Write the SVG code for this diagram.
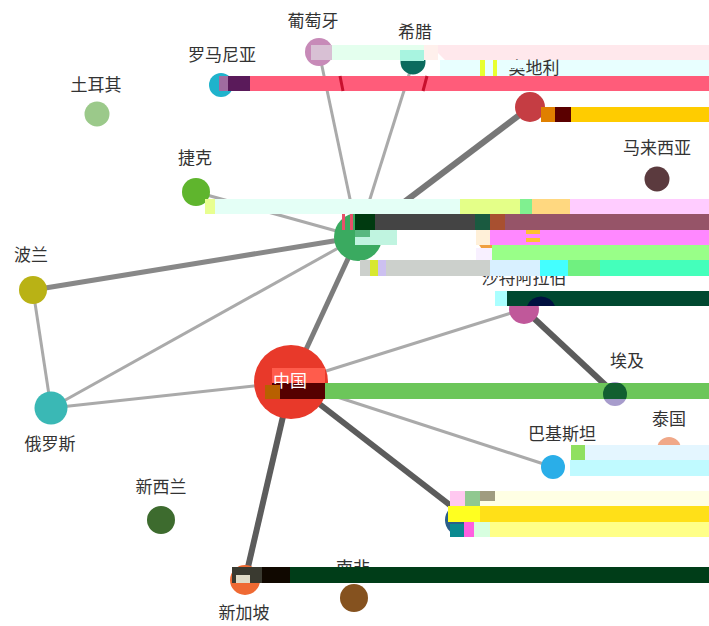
<svg xmlns="http://www.w3.org/2000/svg" width="709" height="626" viewBox="0 0 709 626">
<style>
text{font-family:"Noto Sans CJK SC","Liberation Sans",sans-serif;font-size:17px;fill:#333;text-anchor:middle}
.l{stroke:#aaa;stroke-width:3;fill:none}
.m{stroke:#888;stroke-width:5;fill:none}
.d{stroke:#5c5c5c;stroke-width:6;fill:none}
</style>
<defs><clipPath id="egyptBand"><rect x="600" y="383" width="30" height="16"/></clipPath></defs>
<rect width="709" height="626" fill="#fff"/>
<g id="connectors">
<path class="l" d="M358 237L319 52"/>
<path class="l" d="M358 237L413 62"/>
<path class="l" d="M358 237L196 192"/>
<path class="l" d="M358 237L51 408"/>
<path class="m" d="M358 237L33 290"/>
<path class="d" d="M358 237L530 107" style="stroke:#777"/>
<path class="m" d="M358 237L291 382" style="stroke:#7c7c7c"/>
<path class="l" d="M33 290L51 408"/>
<path class="l" d="M51 408L291 382"/>
<path class="l" d="M291 382L524 309"/>
<path class="l" d="M291 382L553 467"/>
<path class="d" d="M524 309L615 394"/>
<path class="d" d="M291 382L459 512"/>
<path class="d" d="M291 382L245 580"/>
</g>
<g id="node-turkey"><circle cx="97" cy="114" r="12.500" fill="#9bc98a"/><text x="96" y="91">土耳其</text></g>
<g id="node-romania"><circle cx="221" cy="85" r="12" fill="#1fb3cc"/><text x="222" y="61">罗马尼亚</text></g>
<g id="node-portugal"><circle cx="319" cy="52" r="14" fill="#c78ab8"/><text x="313" y="27">葡萄牙</text></g>
<g id="node-greece"><circle cx="413" cy="62" r="12.500" fill="#0b6b5e"/><text x="415" y="38">希腊</text></g>
<g id="node-austria"><circle cx="530" cy="107" r="15" fill="#c53d43"/></g>
<g id="node-malaysia"><circle cx="657" cy="179" r="12.500" fill="#5b3a3e"/><text x="657" y="154">马来西亚</text></g>
<g id="node-czech"><circle cx="196" cy="192" r="14" fill="#5fb52d"/><text x="195" y="164">捷克</text></g>
<g id="node-center"><circle cx="358" cy="237" r="24" fill="#3aaa60"/></g>
<g id="node-hidden"><circle cx="487" cy="241" r="9" fill="#f0a040"/></g>
<g id="node-poland"><circle cx="33" cy="290" r="14" fill="#b9b215"/><text x="31" y="261">波兰</text></g>
<g id="node-saudi"><circle cx="524" cy="309" r="15" fill="#c0589a"/><text x="524" y="284">沙特阿拉伯</text></g>
<g id="node-china"><circle cx="291" cy="382" r="37" fill="#e8392a"/></g>
<g id="node-russia"><circle cx="51" cy="408" r="16.500" fill="#3ab8b5"/><text x="50" y="450">俄罗斯</text></g>
<g id="node-egypt"><circle cx="615" cy="394" r="12" fill="#a79ccc"/><text x="627" y="367">埃及</text></g>
<g id="node-thailand"><circle cx="669" cy="449" r="12" fill="#f0a888"/><text x="669" y="425">泰国</text></g>
<g id="node-pakistan"><circle cx="553" cy="467" r="12" fill="#2aaee8"/><text x="562" y="440">巴基斯坦</text></g>
<g id="node-hidden2"><circle cx="461" cy="520" r="16" fill="#2a5f8a"/></g>
<g id="node-newzealand"><circle cx="161" cy="520" r="14" fill="#3d6b2e"/><text x="161" y="493">新西兰</text></g>
<g id="node-singapore"><circle cx="245" cy="580" r="15" fill="#ef6a33"/><text x="244" y="619">新加坡</text></g>
<g id="node-southafrica"><circle cx="354" cy="598" r="14" fill="#85521f"/><text x="353" y="574">南非</text></g>
<g id="bands">
<rect x="332" y="45" width="98" height="15" fill="#e4ffee"/>
<rect x="311" y="45" width="21" height="15" fill="#d8c0d4"/>
<path d="M430 45H709V60H445Z" fill="#ffe8ec"/>
<rect x="400" y="50" width="24" height="11" fill="#a8f4e0"/>
<rect x="424" y="45" width="14" height="15" fill="#fff0ec"/>
<rect x="440" y="60" width="269" height="16" fill="#e8ffff"/>
<rect x="480" y="60" width="5" height="16" fill="#e8ff30"/>
<rect x="493" y="60" width="4" height="16" fill="#e8ff30"/>
<rect x="250" y="76" width="459" height="15" fill="#ff5c7a"/>
<rect x="219" y="76" width="31" height="15" fill="#5a1a5a"/>
<rect x="219" y="76" width="9" height="15" fill="#a06ca0"/>
<path d="M340 76L343 91M423 91L427 76" stroke="#c8102e" stroke-width="3" fill="none"/>
<rect x="541" y="107" width="168" height="15" fill="#ffcc00"/>
<rect x="541" y="107" width="14" height="15" fill="#e08000"/>
<rect x="555" y="107" width="16" height="15" fill="#5a0000"/>
<rect x="205" y="199" width="255" height="15" fill="#e4fff6"/>
<rect x="205" y="199" width="10" height="15" fill="#e8ff90"/>
<rect x="460" y="199" width="60" height="15" fill="#e4ff88"/>
<rect x="520" y="199" width="12" height="15" fill="#80f090"/>
<rect x="532" y="199" width="38" height="15" fill="#ffd880"/>
<rect x="570" y="199" width="139" height="15" fill="#ffccff"/>
<rect x="355" y="214" width="20" height="16" fill="#003a10"/>
<rect x="375" y="214" width="100" height="16" fill="#444"/>
<rect x="475" y="214" width="15" height="16" fill="#1a5a40"/>
<rect x="490" y="214" width="15" height="16" fill="#a85030"/>
<rect x="505" y="214" width="204" height="16" fill="#965468"/>
<rect x="342" y="214" width="3" height="16" fill="#e8506a"/>
<rect x="350" y="214" width="3" height="16" fill="#e8506a"/>
<rect x="355" y="230" width="42" height="15" fill="#c0f4e0"/>
<rect x="355" y="230" width="15" height="7" fill="#58b880"/>
<rect x="476" y="230" width="14" height="15" fill="#fff0d8"/>
<rect x="490" y="230" width="219" height="15" fill="#ff88ff"/>
<rect x="526" y="230" width="14" height="4" fill="#ffc030"/>
<rect x="526" y="238" width="14" height="4" fill="#ffc030"/>
<rect x="476" y="248" width="16" height="12" fill="#f8f0ff"/>
<rect x="492" y="245" width="217" height="15" fill="#99ff88"/>
<rect x="360" y="260" width="130" height="16" fill="#ccd0cc"/>
<rect x="370" y="260" width="8" height="16" fill="#d8e830"/>
<rect x="378" y="260" width="8" height="16" fill="#ccc0f0"/>
<rect x="490" y="260" width="50" height="16" fill="#d8f0ff"/>
<rect x="540" y="260" width="28" height="16" fill="#44ffff"/>
<rect x="568" y="260" width="32" height="16" fill="#70f080"/>
<rect x="600" y="260" width="109" height="16" fill="#44ffbb"/>
<rect x="495" y="291" width="12" height="15" fill="#aaffff"/>
<rect x="507" y="291" width="202" height="15" fill="#004830"/>
<path d="M527 306A15 15 0 0 1 555 306Z" fill="#001040"/>
<rect x="272" y="368" width="53" height="15" fill="#ff5c4c"/>
<rect x="325" y="383" width="384" height="16" fill="#6cc65a"/>
<rect x="272" y="383" width="53" height="16" fill="#560000"/>
<rect x="265" y="385" width="15" height="14" fill="#b86000"/>
<circle cx="615" cy="394" r="12" fill="#115f30" clip-path="url(#egyptBand)"/>
<rect x="575" y="445" width="134" height="15" fill="#e4f6ff"/>
<rect x="570" y="460" width="139" height="16" fill="#c0faff"/>
<rect x="571" y="445" width="14" height="15" fill="#90e060"/>
<rect x="480" y="491" width="229" height="15" fill="#ffffe4"/>
<rect x="450" y="491" width="15" height="15" fill="#ffc8f0"/>
<rect x="465" y="491" width="15" height="15" fill="#90c890"/>
<rect x="480" y="491" width="15" height="10" fill="#a09c80"/>
<rect x="448" y="506" width="261" height="16" fill="#ffe018"/>
<rect x="448" y="506" width="32" height="16" fill="#ffff20"/>
<rect x="490" y="522" width="219" height="15" fill="#ffff88"/>
<rect x="450" y="524" width="14" height="13" fill="#0a8a90"/>
<rect x="464" y="522" width="10" height="15" fill="#ff60e0"/>
<rect x="474" y="522" width="16" height="15" fill="#d8ffe0"/>
<rect x="232" y="567" width="30" height="16" fill="#3a3a30"/>
<rect x="236" y="575" width="14" height="8" fill="#e0dcc8"/>
<rect x="262" y="567" width="28" height="16" fill="#100800"/>
<rect x="290" y="567" width="419" height="16" fill="#003d18"/>
</g>
<g id="labels-over">
<text x="534" y="74">奥地利</text>
<rect x="509" y="60" width="17" height="8" fill="#e8ffff"/>
<text x="290" y="387" style="fill:#fff">中国</text>
</g>
</svg>
